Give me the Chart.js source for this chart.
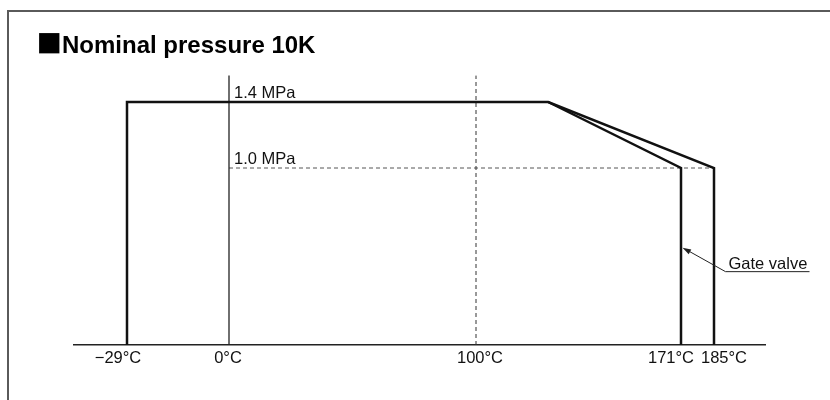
<!DOCTYPE html>
<html>
<head>
<meta charset="utf-8">
<script src="https://cdn.jsdelivr.net/npm/chart.js@4/dist/chart.umd.min.js"></script>
<style>
  html, body { margin: 0; padding: 0; background: #fff; }
  #wrap { width: 830px; height: 400px; }
</style>
</head>
<body>
<div id="wrap"><canvas id="chart" width="830" height="400"></canvas></div>
<script>
// Chart data
const titleText = 'Nominal pressure 10K';
const tempTicks = [-29, 0, 100, 171, 185];
const tickLabels = ['\u221229\u00b0C', '0\u00b0C', '100\u00b0C', '171\u00b0C', '185\u00b0C'];
const ratingTemps = [-29, -29, 125, 185, 185];
const ratingPress = [0, 1.4, 1.4, 1.0, 0];
const gateTemps = [125, 171, 171];
const gatePress = [1.4, 1.0, 0];
const pressureLevels = [1.4, 1.0];
const pressureLabels = ['1.4 MPa', '1.0 MPa'];
const guideTop = 1.56;
const gateLabel = 'Gate valve';
const gatePointer = { temp: 171, press: 0.55 };

// The drawing is schematic, so each axis is stretched piecewise between stops
const xStopValues = [-29, 0, 100, 171, 185];
const xStopPos = [127, 229, 476, 681, 714];
const yStopValues = [0, 1.0, 1.4];
const yStopPos = [0, 177, 243];
const tickLabelShift = [-9, -1, 4, -10, 10];

const FONT = '"Liberation Sans", Arial, sans-serif';

class WarpScale extends Chart.LinearScale {
    warp(v) {
        const vals = this.options.stopValues, pos = this.options.stopPos;
        let i = 1;
        while (i < vals.length - 1 && v > vals[i]) i++;
        return pos[i - 1] + (v - vals[i - 1]) * (pos[i] - pos[i - 1]) / (vals[i] - vals[i - 1]);
    }
    getPixelForValue(v) {
        const a = this.options.axisStart, b = this.options.axisEnd;
        return this.getPixelForDecimal((this.warp(v) - a) / (b - a));
    }
}
WarpScale.id = 'warp';
WarpScale.defaults = Chart.LinearScale.defaults;
Chart.register(WarpScale);

function pts(xs, ys) {
    return xs.map((x, i) => ({ x: x, y: ys[i] }));
}

function lineSet(data, color, width, dash) {
    return {
        data: data,
        borderColor: color,
        borderWidth: width,
        borderDash: dash || [],
        pointRadius: 0,
        fill: false,
        tension: 0,
        clip: false,
        borderJoinStyle: 'miter',
        borderCapStyle: 'butt'
    };
}

// Frame, title and the text annotations
const annotations = {
    id: 'annotations',
    afterDraw(chart) {
        const ctx = chart.ctx;
        const xs = chart.scales.x, ys = chart.scales.y;
        ctx.save();

        // frame (top and left only)
        ctx.strokeStyle = '#5a5a5a';
        ctx.lineWidth = 2;
        ctx.beginPath();
        ctx.moveTo(830, 11);
        ctx.lineTo(8, 11);
        ctx.lineTo(8, 400);
        ctx.stroke();

        // title
        ctx.fillStyle = '#000';
        ctx.textBaseline = 'alphabetic';
        ctx.textAlign = 'left';
        ctx.font = '42px ' + FONT;
        ctx.fillText('\u25a0', 36.5, 55.5);
        ctx.font = 'bold 24px ' + FONT;
        ctx.fillText(titleText, 62, 53);

        // x tick labels
        ctx.font = '16.5px ' + FONT;
        ctx.fillStyle = '#111';
        ctx.textAlign = 'center';
        ctx.textBaseline = 'middle';
        tempTicks.forEach((t, i) => {
            ctx.fillText(tickLabels[i], xs.getPixelForValue(t) + tickLabelShift[i], chart.chartArea.bottom + 13);
        });

        // pressure level labels
        ctx.textAlign = 'left';
        ctx.textBaseline = 'alphabetic';
        pressureLevels.forEach((p, i) => {
            ctx.fillText(pressureLabels[i], xs.getPixelForValue(0) + 5, ys.getPixelForValue(p) - 4);
        });

        // gate valve pointer
        const tipX = xs.getPixelForValue(gatePointer.temp) + 1.5;
        const tipY = ys.getPixelForValue(gatePointer.press);
        const baseX = tipX + 43, baseY = tipY + 24;
        ctx.strokeStyle = '#222';
        ctx.lineWidth = 1;
        ctx.beginPath();
        ctx.moveTo(baseX + 84, baseY);
        ctx.lineTo(baseX, baseY);
        ctx.lineTo(tipX + 6, tipY + 3.3);
        ctx.stroke();
        const ang = Math.atan2(baseY - tipY, baseX - tipX);
        ctx.fillStyle = '#222';
        ctx.beginPath();
        ctx.moveTo(tipX, tipY);
        ctx.lineTo(tipX + 9 * Math.cos(ang - 0.3), tipY + 9 * Math.sin(ang - 0.3));
        ctx.lineTo(tipX + 9 * Math.cos(ang + 0.3), tipY + 9 * Math.sin(ang + 0.3));
        ctx.closePath();
        ctx.fill();
        ctx.fillStyle = '#111';
        ctx.textAlign = 'left';
        ctx.textBaseline = 'alphabetic';
        ctx.fillText(gateLabel, baseX + 3, baseY - 3);

        ctx.restore();
    }
};

const ctx = document.getElementById('chart').getContext('2d');
const chart = new Chart(ctx, {
    type: 'line',
    data: {
        datasets: [
            lineSet(pts(ratingTemps, ratingPress), '#111', 2.5),
            lineSet(pts(gateTemps, gatePress), '#111', 2.5),
            lineSet(pts([0, 0], [0, guideTop]), '#222', 1.3),
            lineSet(pts([100, 100], [0, guideTop]), '#333', 1, [4, 3]),
            lineSet(pts([0, 185], [1.0, 1.0]), '#555', 1, [4, 3])
        ]
    },
    options: {
        responsive: false,
        animation: false,
        devicePixelRatio: 1,
        events: [],
        layout: { padding: { left: 74, right: 65, top: 70, bottom: 0 } },
        plugins: {
            legend: { display: false },
            title: { display: false },
            tooltip: { enabled: false }
        },
        scales: {
            x: {
                type: 'warp',
                axisStart: 74,
                axisEnd: 765,
                stopValues: xStopValues,
                stopPos: xStopPos,
                grid: { display: false, drawTicks: false },
                ticks: { display: false },
                border: { display: true, color: '#222', width: 1.5 },
                afterFit: (s) => { s.height = 55; }
            },
            y: {
                type: 'warp',
                display: false,
                axisStart: 0,
                axisEnd: 275,
                stopValues: yStopValues,
                stopPos: yStopPos
            }
        }
    },
    plugins: [annotations]
});
</script>
</body>
</html>
